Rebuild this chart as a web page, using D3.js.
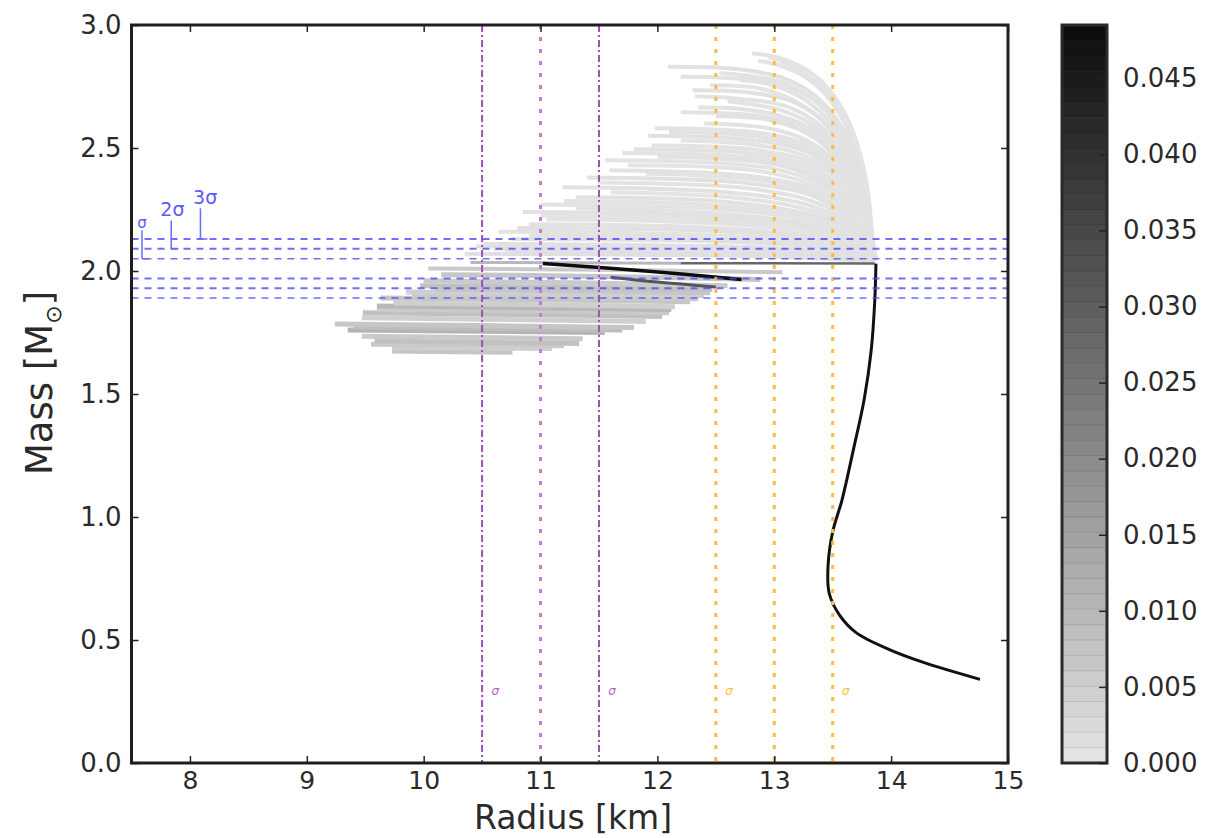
<!DOCTYPE html>
<html><head><meta charset="utf-8">
<script src="https://cdn.jsdelivr.net/npm/d3@7"></script>
<style>
body{margin:0;background:#fff}
svg{display:block}
text{font-family:"DejaVu Sans","Bitstream Vera Sans",sans-serif}
</style>
</head><body>
<svg id="chart" width="1224" height="838"></svg>
<script>
// ---------------- data ----------------
const xTicks = [8, 9, 10, 11, 12, 13, 14, 15];
const yTicks = [0.0, 0.5, 1.0, 1.5, 2.0, 2.5, 3.0];
const cbTicks = [0.000, 0.005, 0.010, 0.015, 0.020, 0.025, 0.030, 0.035, 0.040, 0.045];
const cbMax = 0.0485;

// PSR mass bands (2.01 +/- n sigma)
const massLines = [2.13, 2.09, 2.05, 1.97, 1.93, 1.89];
const massLineWidths = [2, 2, 1.5, 2, 2, 1.5];
const sigmaText = ["σ", "2σ", "3σ"];
const sigmaTextR = [7.59, 7.85, 8.13];
const sigmaTextM = [2.175, 2.225, 2.272];
const sigmaBarR = [7.59, 7.84, 8.09];
const sigmaBarTop = [2.165, 2.205, 2.255];
const sigmaBarBottom = [2.05, 2.09, 2.13];

// radius constraint lines
const purpleR = [10.5, 11.0, 11.5];
const purpleStyle = ["dashdot", "dot", "dashdot"];
const orangeR = [12.5, 13.0, 13.5];
const orangeStyle = ["dot", "dot", "dot"];
const smallSigmaR = [10.58, 11.58, 12.58, 13.58];
const smallSigmaM = [0.275, 0.275, 0.275, 0.275];
const smallSigmaColor = ["purple", "purple", "orange", "orange"];

// common low-density branch (black)
const mainCurve = [
  [14.76, 0.34], [14.27, 0.41], [13.99, 0.46], [13.70, 0.53], [13.56, 0.60],
  [13.47, 0.69], [13.46, 0.80], [13.50, 0.94], [13.58, 1.07], [13.68, 1.28],
  [13.77, 1.48], [13.83, 1.68], [13.86, 1.88], [13.87, 2.03]
];

// light upper branches (stiff high-density extensions)
const upperCurves = [
  [[13.87,2.04],[13.84,2.14],[13.79,2.36],[13.67,2.57],[13.53,2.70],[13.33,2.80],[13.05,2.865],[12.81,2.885]],
  [[13.87,2.05],[13.83,2.16],[13.78,2.37],[13.65,2.57],[13.50,2.70],[13.30,2.79],[13.10,2.845],[12.95,2.87]],
  [[13.86,2.05],[13.82,2.18],[13.76,2.38],[13.63,2.57],[13.47,2.70],[13.26,2.79],[13.05,2.835],[12.86,2.855]],
  [[13.86,2.05],[13.81,2.20],[13.73,2.40],[13.58,2.58],[13.38,2.70],[13.10,2.78],[12.70,2.82],[12.09,2.83]],
  [[13.86,2.06],[13.80,2.22],[13.70,2.42],[13.55,2.58],[13.33,2.70],[13.05,2.77],[12.53,2.805]],
  [[13.86,2.06],[13.80,2.21],[13.71,2.41],[13.56,2.58],[13.35,2.69],[13.05,2.76],[12.60,2.785],[12.20,2.79]],
  [[13.86,2.06],[13.79,2.24],[13.68,2.43],[13.50,2.59],[13.25,2.70],[12.95,2.76],[12.70,2.775]],
  [[13.86,2.07],[13.78,2.24],[13.67,2.43],[13.48,2.58],[13.22,2.68],[12.90,2.74],[12.45,2.755]],
  [[13.85,2.07],[13.78,2.25],[13.66,2.43],[13.47,2.58],[13.20,2.68],[12.80,2.725],[12.30,2.735]],
  [[13.85,2.07],[13.77,2.26],[13.63,2.44],[13.42,2.58],[13.10,2.67],[12.70,2.70],[12.32,2.71]],
  [[13.85,2.07],[13.77,2.26],[13.62,2.44],[13.40,2.57],[13.08,2.65],[12.60,2.69]],
  [[13.85,2.08],[13.76,2.27],[13.60,2.44],[13.38,2.56],[13.05,2.63],[12.70,2.66],[12.35,2.665]],
  [[13.85,2.08],[13.75,2.27],[13.59,2.43],[13.36,2.55],[13.00,2.62],[12.60,2.64],[12.20,2.645]],
  [[13.85,2.08],[13.75,2.27],[13.58,2.43],[13.35,2.54],[13.00,2.61],[12.50,2.63]],
  [[13.85,2.08],[13.74,2.27],[13.57,2.42],[13.32,2.52],[12.95,2.58],[12.40,2.60]],
  [[13.85,2.08],[13.74,2.27],[13.56,2.42],[13.30,2.51],[12.90,2.56],[12.40,2.577],[11.98,2.58]],
  [[13.84,2.09],[13.73,2.27],[13.54,2.41],[13.27,2.50],[12.88,2.545],[12.40,2.562],[12.10,2.565]],
  [[13.84,2.09],[13.72,2.27],[13.52,2.41],[13.25,2.49],[12.85,2.53],[12.30,2.547],[11.92,2.55]],
  [[13.84,2.09],[13.71,2.27],[13.51,2.40],[13.22,2.475],[12.80,2.515],[12.20,2.53]],
  [[13.84,2.09],[13.70,2.27],[13.50,2.39],[13.20,2.46],[12.80,2.495],[12.30,2.508],[11.95,2.51]],
  [[13.84,2.09],[13.69,2.26],[13.47,2.38],[13.15,2.45],[12.70,2.483],[12.20,2.493],[11.80,2.495]],
  [[13.84,2.09],[13.68,2.26],[13.45,2.37],[13.10,2.44],[12.60,2.47],[12.10,2.478],[11.70,2.48]],
  [[13.84,2.09],[13.67,2.25],[13.42,2.36],[13.05,2.43],[12.55,2.456],[12.00,2.465]],
  [[13.84,2.09],[13.66,2.25],[13.40,2.35],[13.00,2.415],[12.50,2.44],[12.00,2.448],[11.55,2.45]],
  [[13.84,2.09],[13.65,2.24],[13.37,2.34],[12.95,2.40],[12.45,2.423],[11.75,2.43]],
  [[13.84,2.09],[13.64,2.24],[13.35,2.33],[12.90,2.38],[12.40,2.40],[11.59,2.41]],
  [[13.84,2.09],[13.62,2.23],[13.32,2.32],[12.85,2.37],[12.30,2.39],[11.90,2.395]],
  [[13.84,2.09],[13.60,2.23],[13.30,2.31],[12.80,2.355],[12.20,2.373],[11.40,2.38]],
  [[13.84,2.09],[13.59,2.22],[13.25,2.295],[12.70,2.34],[12.00,2.356],[11.50,2.36]],
  [[13.84,2.09],[13.58,2.21],[13.20,2.28],[12.60,2.32],[11.90,2.335],[11.19,2.34]],
  [[13.84,2.08],[13.56,2.20],[13.15,2.265],[12.55,2.303],[11.90,2.317],[11.60,2.32]],
  [[13.84,2.08],[13.55,2.19],[13.10,2.25],[12.50,2.285],[11.90,2.297],[11.30,2.30]],
  [[13.84,2.08],[13.52,2.185],[13.05,2.24],[12.40,2.27],[11.70,2.282],[11.20,2.285]],
  [[13.84,2.08],[13.50,2.18],[13.00,2.23],[12.30,2.257],[11.60,2.267],[11.00,2.27]],
  [[13.84,2.08],[13.48,2.17],[12.95,2.215],[12.20,2.243],[11.30,2.255]],
  [[13.84,2.08],[13.45,2.16],[12.90,2.205],[12.10,2.23],[11.40,2.238],[10.85,2.24]],
  [[13.85,2.07],[13.42,2.155],[12.85,2.195],[12.05,2.217],[11.00,2.225]],
  [[13.85,2.07],[13.40,2.15],[12.80,2.185],[12.00,2.203],[11.05,2.21]],
  [[13.85,2.07],[13.35,2.14],[12.70,2.17],[11.80,2.186],[10.90,2.19]],
  [[13.85,2.065],[13.32,2.13],[12.60,2.16],[11.60,2.172],[10.80,2.175]],
  [[13.85,2.06],[13.30,2.12],[12.50,2.145],[11.50,2.157],[10.64,2.16]],
  [[13.86,2.06],[13.25,2.115],[12.45,2.135],[11.50,2.142],[10.90,2.145]],
  [[13.86,2.06],[13.20,2.105],[12.40,2.122],[11.50,2.128],[10.75,2.13]],
  [[13.86,2.05],[13.10,2.09],[12.20,2.103],[11.30,2.108],[10.51,2.11]],
  [[13.86,2.05],[13.05,2.082],[12.10,2.094],[11.20,2.098],[10.45,2.10]],
  [[13.86,2.05],[13.00,2.075],[12.00,2.085],[11.20,2.089],[10.60,2.09]],
  [[13.86,2.045],[12.95,2.068],[11.90,2.076],[11.10,2.079],[10.70,2.08]],
  [[13.86,2.04],[12.90,2.06],[11.80,2.066],[11.00,2.069],[10.35,2.07]]
];
const upperValues = [
  0.0005, 0.0003, 0.0005, 0.0008, 0.0004, 0.0006, 0.0005, 0.0003, 0.0008, 0.0005,
  0.0004, 0.0006, 0.0005, 0.0008, 0.0004, 0.0005, 0.0006, 0.0008, 0.0004, 0.0005,
  0.0006, 0.0005, 0.0008, 0.0004, 0.0005, 0.0006, 0.0005, 0.0008, 0.0004, 0.0006,
  0.0005, 0.0008, 0.0004, 0.0005, 0.0006, 0.0008, 0.0005, 0.0004, 0.0006, 0.0008,
  0.0005, 0.0006, 0.0008, 0.0010, 0.0008, 0.0010, 0.0012, 0.0012
];

// darker lower branches
const lowerCurves = [
  [[10.40,2.035],[12.20,2.032]],
  [[9.73,1.675],[10.30,1.672],[10.76,1.670]],
  [[9.73,1.690],[10.40,1.687],[11.10,1.685]],
  [[9.55,1.702],[10.45,1.699],[11.20,1.696]],
  [[9.58,1.715],[10.50,1.710],[11.33,1.705]],
  [[9.47,1.735],[10.40,1.730],[11.36,1.725]],
  [[9.35,1.760],[10.50,1.755],[11.55,1.750]],
  [[9.40,1.772],[10.60,1.766],[11.70,1.760]],
  [[9.24,1.785],[10.50,1.778],[11.80,1.770]],
  [[9.47,1.810],[10.70,1.803],[11.90,1.795]],
  [[9.48,1.830],[10.80,1.823],[12.04,1.815]],
  [[9.60,1.845],[10.90,1.838],[12.10,1.830]],
  [[9.60,1.858],[10.90,1.851],[12.12,1.843]],
  [[9.74,1.870],[11.00,1.863],[12.15,1.855]],
  [[9.63,1.890],[11.00,1.883],[12.28,1.875]],
  [[9.90,1.902],[11.10,1.895],[12.35,1.887]],
  [[9.85,1.915],[11.10,1.908],[12.40,1.900]],
  [[10.10,1.927],[11.30,1.920],[12.45,1.912]],
  [[9.97,1.940],[11.20,1.933],[12.47,1.925]],
  [[10.00,1.960],[11.30,1.952],[12.60,1.940]],
  [[10.15,1.985],[11.50,1.978],[12.88,1.965]],
  [[10.04,2.010],[11.50,2.005],[13.07,1.995]],
  [[12.20,2.032],[13.86,2.030]],
  [[11.60,1.975],[12.00,1.955],[12.50,1.935]],
  [[11.02,2.030],[11.90,2.000],[12.72,1.965]]
];
const lowerValues = [0.010, 0.007, 0.005, 0.006, 0.008, 0.006, 0.011, 0.009, 0.007, 0.005,
  0.008, 0.006, 0.010, 0.005, 0.007, 0.006, 0.005, 0.007, 0.008, 0.006,
  0.007, 0.006, 0.028, 0.032, 0.048];
const lowerWidths = [3, 5, 5, 5, 5, 5, 5, 5, 5, 5, 5, 5, 5, 5, 5, 5, 5, 5, 5, 5, 5, 4, 2.5, 3, 3.5];

// ---------------- drawing ----------------
const svg = d3.select("#chart");
const W = {l: 131.5, r: 1008, t: 25, b: 763};
const x = d3.scaleLinear().domain([7.5, 15]).range([W.l, W.r]);
const y = d3.scaleLinear().domain([0, 3]).range([W.b, W.t]);
const grey = d3.scaleLinear().domain([0, cbMax]).range(["#e5e5e5", "#0b0b0b"]).interpolate(d3.interpolateRgb);

svg.append("defs").append("clipPath").attr("id", "clip")
  .append("rect").attr("x", W.l).attr("y", W.t).attr("width", W.r - W.l).attr("height", W.b - W.t);

const plot = svg.append("g").attr("clip-path", "url(#clip)");
const line = d3.line().x(d => x(d[0])).y(d => y(d[1])).curve(d3.curveCatmullRom.alpha(0.5));

plot.selectAll("path.up").data(upperCurves).join("path")
  .attr("class", "up").attr("d", line).attr("fill", "none")
  .attr("stroke", (d, i) => grey(upperValues[i])).attr("stroke-width", 4)
  .attr("stroke-linecap", "butt");

plot.selectAll("path.low").data(lowerCurves).join("path")
  .attr("class", "low").attr("d", line).attr("fill", "none")
  .attr("stroke", (d, i) => grey(lowerValues[i])).attr("stroke-width", (d, i) => lowerWidths[i]);

plot.append("path").datum(mainCurve).attr("d", line).attr("fill", "none")
  .attr("stroke", "#111").attr("stroke-width", 3).attr("stroke-linejoin", "round");

// vertical radius lines
const dash = {dot: "4,8", dashdot: "7,3,2,3"};
plot.selectAll("line.pr").data(purpleR).join("line").attr("class", "pr")
  .attr("x1", d => x(d)).attr("x2", d => x(d)).attr("y1", W.t).attr("y2", W.b)
  .attr("stroke", (d, i) => purpleStyle[i] === "dot" ? "#c27fcf" : "#a24db6")
  .attr("stroke-width", (d, i) => purpleStyle[i] === "dot" ? 3 : 2)
  .attr("stroke-dasharray", (d, i) => dash[purpleStyle[i]]);
plot.selectAll("line.or").data(orangeR).join("line").attr("class", "or")
  .attr("x1", d => x(d)).attr("x2", d => x(d)).attr("y1", W.t).attr("y2", W.b)
  .attr("stroke", "#ffbb44").attr("stroke-width", 3)
  .attr("stroke-dasharray", (d, i) => dash[orangeStyle[i]]);

// horizontal mass lines
plot.selectAll("line.m").data(massLines).join("line").attr("class", "m")
  .attr("x1", W.l).attr("x2", W.r).attr("y1", d => y(d)).attr("y2", d => y(d))
  .attr("stroke", "#4a4aff").attr("stroke-opacity", 0.8)
  .attr("stroke-width", (d, i) => massLineWidths[i]).attr("stroke-dasharray", "7,6");

// sigma annotations
const ann = plot.append("g");
ann.selectAll("line.bar").data(sigmaBarR).join("line").attr("class", "bar")
  .attr("x1", d => x(d)).attr("x2", d => x(d))
  .attr("y1", (d, i) => y(sigmaBarTop[i])).attr("y2", (d, i) => y(sigmaBarBottom[i]))
  .attr("stroke", "#6a6aff").attr("stroke-width", 1.5);
ann.selectAll("line.foot").data(sigmaBarR).join("line").attr("class", "foot")
  .attr("x1", d => x(d)).attr("x2", d => x(d) + 7)
  .attr("y1", (d, i) => y(sigmaBarBottom[i])).attr("y2", (d, i) => y(sigmaBarBottom[i]))
  .attr("stroke", "#6a6aff").attr("stroke-width", 1.5);
ann.selectAll("text").data(sigmaText).join("text")
  .attr("x", (d, i) => x(sigmaTextR[i])).attr("y", (d, i) => y(sigmaTextM[i]))
  .attr("text-anchor", "middle").attr("font-size", (d, i) => i === 0 ? 15 : 19)
  .attr("fill", "#5a5aff").text(d => d);

plot.selectAll("text.ss").data(smallSigmaR).join("text").attr("class", "ss")
  .attr("x", d => x(d)).attr("y", (d, i) => y(smallSigmaM[i]))
  .attr("font-size", 12).attr("font-style", "italic")
  .attr("fill", (d, i) => smallSigmaColor[i] === "purple" ? "#b066c0" : "#ffbb44")
  .text("σ");

// axes (ticks inward, labels only bottom/left)
const tickLen = 7;
const axB = svg.append("g").attr("transform", `translate(0,${W.b})`)
  .call(d3.axisBottom(x).tickValues(xTicks).tickSize(-tickLen).tickPadding(8).tickFormat(d3.format("d")));
const axT = svg.append("g").attr("transform", `translate(0,${W.t})`)
  .call(d3.axisTop(x).tickValues(xTicks).tickSize(-tickLen).tickFormat(""));
const axL = svg.append("g").attr("transform", `translate(${W.l},0)`)
  .call(d3.axisLeft(y).tickValues(yTicks).tickSize(-tickLen).tickPadding(10).tickFormat(d3.format(".1f")));
const axR = svg.append("g").attr("transform", `translate(${W.r},0)`)
  .call(d3.axisRight(y).tickValues(yTicks).tickSize(-tickLen).tickFormat(""));
[axB, axT, axL, axR].forEach(a => {
  a.select(".domain").remove();
  a.selectAll(".tick line").attr("stroke", "#222").attr("stroke-width", 1.5);
  a.selectAll(".tick text").attr("font-size", 26).attr("fill", "#2a2a2a")
    .attr("font-family", '"DejaVu Sans",sans-serif');
});
axB.selectAll(".tick text").attr("font-size", 25).attr("dy", "0.71em");

svg.append("rect").attr("x", W.l).attr("y", W.t).attr("width", W.r - W.l).attr("height", W.b - W.t)
  .attr("fill", "none").attr("stroke", "#1e1e1e").attr("stroke-width", 3);

// axis titles
svg.append("text").attr("x", 573).attr("y", 829).attr("text-anchor", "middle")
  .attr("font-size", 33).attr("fill", "#2a2a2a").text("Radius [km]");
const yl = svg.append("text").attr("transform", `translate(52,383) rotate(-90)`)
  .attr("text-anchor", "middle").attr("font-size", 37).attr("fill", "#2a2a2a");
yl.append("tspan").text("Mass [M");
yl.append("tspan").attr("font-size", 22).attr("dy", 9).text("⊙");
yl.append("tspan").attr("dy", -9).text("]");

// colorbar
const CB = {l: 1062, r: 1107, t: 25, b: 763};
const cy = d3.scaleLinear().domain([0, cbMax]).range([CB.b, CB.t]);
const nBands = 48;
const bands = d3.range(nBands).map(i => [i * cbMax / nBands, (i + 1) * cbMax / nBands]);
svg.append("g").selectAll("rect").data(bands).join("rect")
  .attr("x", CB.l).attr("width", CB.r - CB.l)
  .attr("y", d => cy(d[1])).attr("height", d => cy(d[0]) - cy(d[1]) + 0.5)
  .attr("fill", d => grey((d[0] + d[1]) / 2));
svg.append("g").selectAll("line").data(bands.slice(1)).join("line")
  .attr("x1", CB.l).attr("x2", CB.r).attr("y1", d => cy(d[0])).attr("y2", d => cy(d[0]))
  .attr("stroke", "#000").attr("stroke-opacity", 0.1);
svg.append("rect").attr("x", CB.l).attr("y", CB.t).attr("width", CB.r - CB.l).attr("height", CB.b - CB.t)
  .attr("fill", "none").attr("stroke", "#2a2a2a").attr("stroke-width", 3);
const axC = svg.append("g").attr("transform", `translate(${CB.r},0)`)
  .call(d3.axisRight(cy).tickValues(cbTicks).tickSize(-8).tickPadding(16).tickFormat(d3.format(".3f")));
axC.select(".domain").remove();
axC.selectAll(".tick line").attr("stroke", "#222").attr("stroke-width", 1.5);
axC.selectAll(".tick text").attr("font-size", 26).attr("fill", "#2a2a2a")
  .attr("font-family", '"DejaVu Sans",sans-serif');
</script>
</body></html>
